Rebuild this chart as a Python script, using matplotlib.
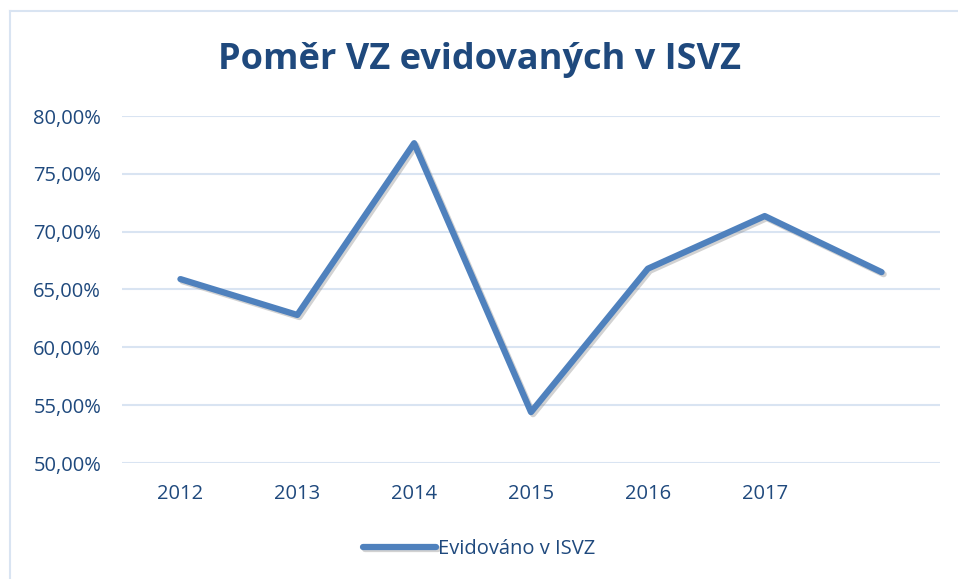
import numpy as np
import matplotlib
matplotlib.use("Agg")
from matplotlib import pyplot as plt
from matplotlib import patheffects as pe
from matplotlib.ticker import FuncFormatter

years = ["2012", "2013", "2014", "2015", "2016", "2017", ""]
podil = [0.659, 0.628, 0.7765, 0.544, 0.668, 0.7135, 0.665]

txt = "#1F497D"
modra = "#4F81BD"
mrizka = "#D9E4F2"

plt.rcParams['font.family'] = ['Open Sans', 'DejaVu Sans']

fig = plt.figure(figsize=(9.58, 5.79), dpi=100)
ax = fig.add_axes([122/958, 1-463/579, (940-122)/958, (463-116)/579])

x = np.arange(len(podil))
ax.plot(x, podil, color=modra, lw=4.5, solid_capstyle='round', solid_joinstyle='round',
        label="Evidováno v ISVZ",
        path_effects=[pe.SimpleLineShadow(offset=(1.5, -1.5), shadow_color='gray', alpha=0.35),
                      pe.Normal()])

ax.set_xlim(-0.5, len(podil) - 0.5)
ax.set_ylim(0.5, 0.8)
ax.set_yticks(np.arange(0.5, 0.801, 0.05))
ax.yaxis.set_major_formatter(FuncFormatter(lambda v, p: ("%.2f%%" % (v*100)).replace(".", ",")))
ax.set_xticks(x)
ax.set_xticklabels(years)
ax.grid(axis='y', color=mrizka, lw=1.5)
ax.set_axisbelow(True)
for s in ax.spines.values():
    s.set_visible(False)
ax.tick_params(length=0, labelsize=14.5, colors=txt)
ax.tick_params(axis='y', pad=15)
ax.tick_params(axis='x', pad=15)

fig.text(0.5, 1-60/579, "Poměr VZ evidovaných v ISVZ", ha='center', va='center',
         fontsize=26, fontweight='bold', color=txt)

leg = fig.legend(loc='center', bbox_to_anchor=(0.5, 1-549/579), frameon=False,
                 fontsize=14.5, handlelength=3.6, handletextpad=0.1)
for t in leg.get_texts():
    t.set_color(txt)

# ramecek grafu (oriznuty vpravo a dole)
fig.add_artist(plt.Line2D([10/958, 10/958], [0, 1-11/579], color=mrizka, lw=1.5))
fig.add_artist(plt.Line2D([10/958, 1], [1-11/579, 1-11/579], color=mrizka, lw=1.5))

fig.savefig("out.png", dpi=100)
